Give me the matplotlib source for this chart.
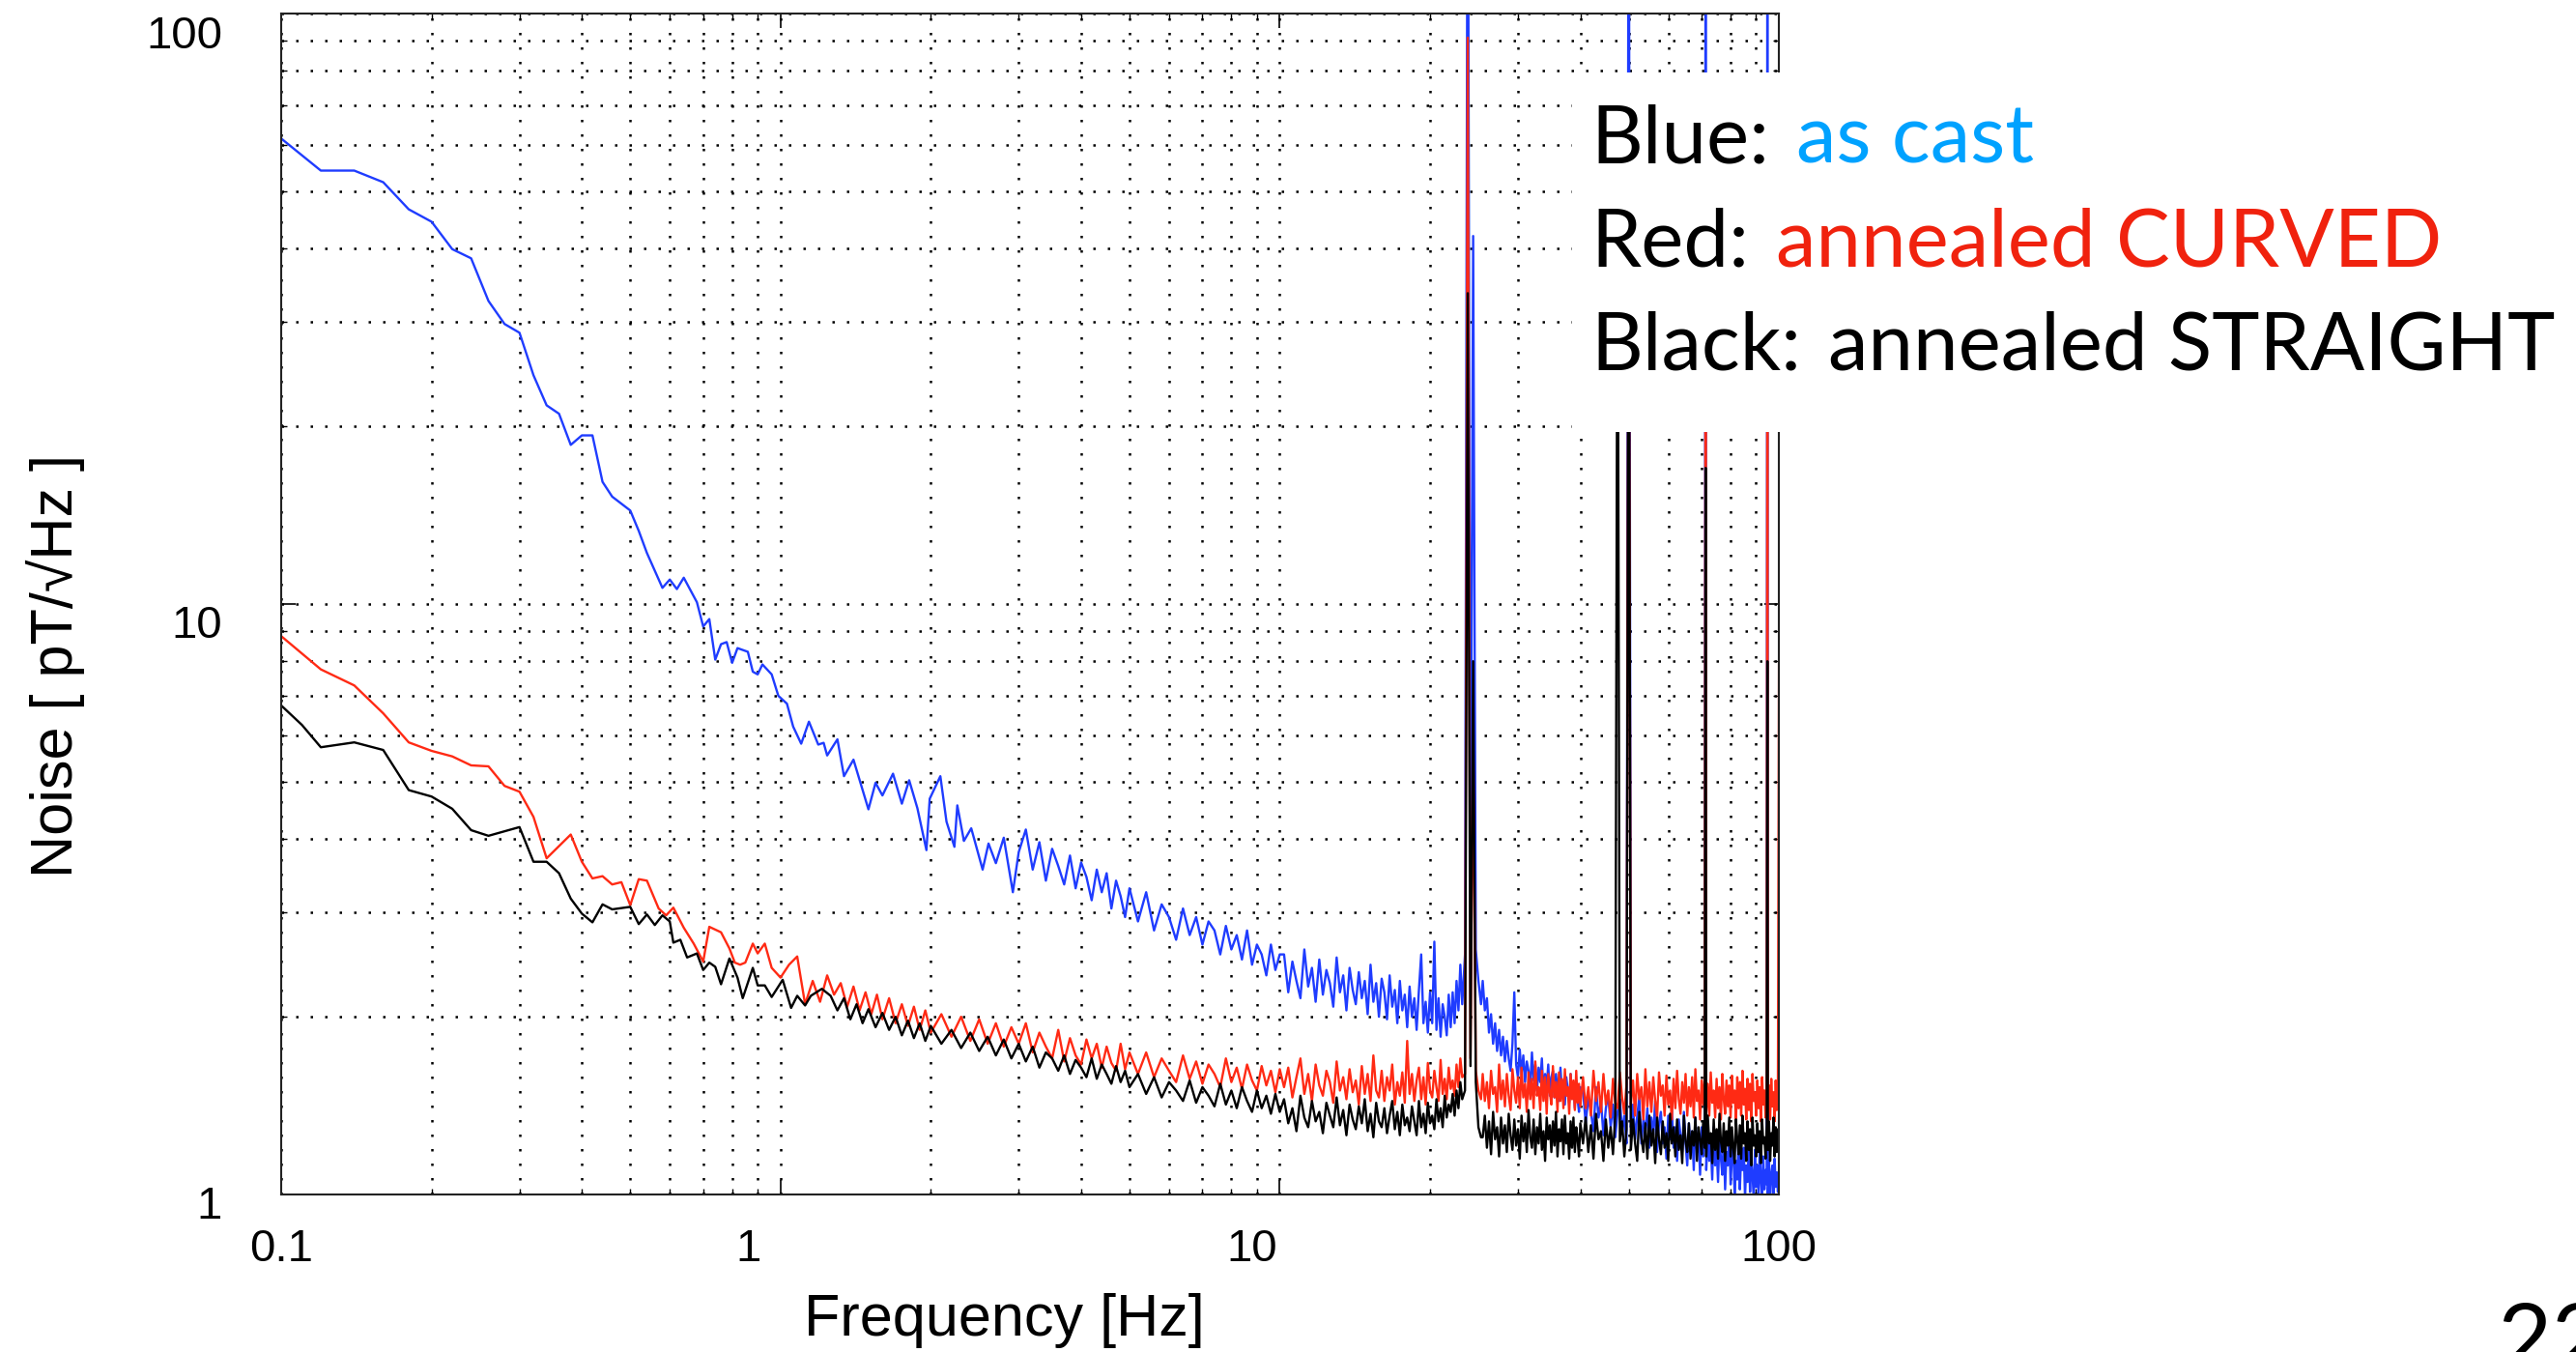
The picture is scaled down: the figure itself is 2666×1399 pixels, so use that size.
import matplotlib
matplotlib.use("Agg")
import matplotlib.pyplot as plt
from matplotlib.patches import Rectangle
from matplotlib.text import Annotation
from matplotlib.ticker import NullFormatter

# ---- values ----
# low frequency part, one list per curve
blue_lo_f = [0.10, 0.12, 0.14, 0.16, 0.18, 0.20, 0.22, 0.24, 0.26, 0.28,
             0.30, 0.32, 0.34, 0.36, 0.38, 0.40, 0.42, 0.44, 0.46,
             0.50, 0.52, 0.54, 0.57, 0.58, 0.60, 0.62, 0.64,
             0.68, 0.70, 0.72, 0.74, 0.76, 0.78, 0.80, 0.82,
             0.86, 0.88, 0.90, 0.92, 0.96, 0.99,
             1.03, 1.06, 1.10, 1.14, 1.19, 1.22, 1.24, 1.30, 1.34, 1.40,
             1.50, 1.55, 1.60, 1.68, 1.75, 1.81, 1.88, 1.96, 1.99,
             2.09, 2.15, 2.23, 2.26, 2.33, 2.41, 2.54, 2.61, 2.70, 2.80, 2.92]
blue_lo_v = [61.4, 54.2, 54.2, 51.8, 46.6, 44.4, 39.9, 38.5, 32.6, 29.8,
             28.8, 24.4, 21.7, 21.0, 18.6, 19.3, 19.3, 16.1, 15.2,
             14.4, 13.3, 12.2, 11.0, 10.65, 11.0, 10.6, 11.08,
             10.07, 9.16, 9.43, 8.05, 8.55, 8.62, 7.95, 8.42,
             8.3, 7.68, 7.6, 7.9, 7.6, 6.99,
             6.78, 6.2, 5.8, 6.32, 5.78, 5.82, 5.54, 5.9, 5.11, 5.45,
             4.49, 4.98, 4.74, 5.16, 4.59, 5.03, 4.51, 3.83, 4.68,
             5.11, 4.28, 3.88, 4.56, 3.97, 4.17, 3.55, 3.93, 3.64, 4.02, 3.25]

red_lo_f = [0.10, 0.12, 0.14, 0.16, 0.18, 0.20, 0.22, 0.24, 0.26, 0.28, 0.30, 0.32, 0.34,
            0.38, 0.40, 0.42, 0.44, 0.46, 0.48, 0.50, 0.52, 0.54,
            0.57, 0.59, 0.61, 0.64, 0.67, 0.70, 0.72, 0.76, 0.79, 0.81, 0.83, 0.85,
            0.88, 0.90, 0.93, 0.96,
            1.00, 1.04, 1.08, 1.12,
            1.16, 1.20, 1.24, 1.28, 1.32, 1.36, 1.40, 1.44, 1.48, 1.52, 1.56,
            1.60, 1.65, 1.70, 1.75, 1.80, 1.85, 1.90, 1.95, 2.00,
            2.1, 2.2, 2.3, 2.4, 2.5, 2.6, 2.7, 2.8, 2.9]
red_lo_v = [8.82, 7.75, 7.28, 6.53, 5.83, 5.64, 5.52, 5.33, 5.31, 4.92, 4.81, 4.36, 3.71,
            4.07, 3.66, 3.43, 3.46, 3.35, 3.38, 3.09, 3.42, 3.40,
            3.05, 2.97, 3.06, 2.83, 2.66, 2.48, 2.84, 2.78, 2.61, 2.47, 2.45, 2.47,
            2.66, 2.56, 2.66, 2.42,
            2.33, 2.45, 2.53, 2.10,
            2.30, 2.12, 2.35, 2.18, 2.28, 2.08, 2.25, 2.05, 2.20, 2.02, 2.18,
            1.98, 2.15, 1.95, 2.10, 1.93, 2.08, 1.90, 2.05, 1.88,
            2.02, 1.85, 2.00, 1.82, 1.98, 1.80, 1.95, 1.78, 1.92]

black_lo_f = [0.10, 0.11, 0.12,
              0.14, 0.16, 0.18, 0.20, 0.22, 0.24, 0.26,
              0.30, 0.32, 0.34, 0.36, 0.38, 0.40, 0.42, 0.44, 0.46,
              0.50, 0.52, 0.54, 0.56, 0.58, 0.60,
              0.61, 0.63, 0.65, 0.68, 0.70, 0.72, 0.74, 0.76, 0.79, 0.82,
              0.84, 0.88, 0.90, 0.93, 0.96,
              1.01, 1.05, 1.08, 1.12, 1.15, 1.21, 1.26,
              1.30, 1.34, 1.38, 1.42, 1.46, 1.50, 1.55, 1.60, 1.65, 1.70,
              1.75, 1.80, 1.85, 1.90, 1.95, 2.00, 2.1, 2.2, 2.3, 2.4,
              2.5, 2.6, 2.7, 2.8, 2.9]
black_lo_v = [6.73, 6.24, 5.72,
              5.83, 5.66, 4.84, 4.72, 4.50, 4.14, 4.05,
              4.19, 3.66, 3.66, 3.50, 3.17, 2.99, 2.89, 3.10, 3.04,
              3.07, 2.87, 2.98, 2.86, 2.97, 2.90,
              2.67, 2.70, 2.52, 2.56, 2.40, 2.47, 2.43, 2.27, 2.51, 2.33,
              2.15, 2.42, 2.26, 2.26, 2.16,
              2.31, 2.07, 2.17, 2.09, 2.17, 2.23, 2.17,
              2.05, 2.15, 1.98, 2.10, 1.95, 2.06, 1.92, 2.03, 1.90, 2.00,
              1.86, 1.97, 1.84, 1.95, 1.82, 1.93, 1.80, 1.90, 1.77, 1.88,
              1.75, 1.85, 1.72, 1.83, 1.70]

# 3 - 100 Hz: one frequency list shared by the three curves
f_hi = [
    # 3 - 5 Hz
    3.0, 3.1, 3.2, 3.3, 3.4, 3.5, 3.6, 3.7, 3.8, 3.9, 4.0, 4.1, 4.2, 4.3, 4.4, 4.5, 4.6, 4.7, 4.8, 4.9, 5.0,
    # 5 - 10 Hz
    5.2, 5.4, 5.6, 5.8, 6.0, 6.2, 6.4, 6.6, 6.8, 7.0, 7.2, 7.4, 7.6, 7.8, 8.0, 8.2, 8.4, 8.6, 8.8, 9.0,
    9.2, 9.4, 9.6, 9.8, 10.0,
    # 10 - 23 Hz
    10.2, 10.4, 10.6, 10.8, 11.0, 11.2, 11.4, 11.6, 11.8, 12.0,
    12.2, 12.4, 12.6, 12.8, 13.0, 13.2, 13.4, 13.6, 13.8, 14.0,
    14.2, 14.4, 14.6, 14.8, 15.0, 15.2, 15.4, 15.6, 15.8, 16.0,
    16.2, 16.4, 16.6, 16.8, 17.0, 17.2, 17.4, 17.6, 17.8, 18.0,
    18.2, 18.4, 18.6, 18.8, 19.0, 19.2, 19.4, 19.6, 19.8, 20.0,
    20.2, 20.4, 20.6, 20.8, 21.0, 21.2, 21.4, 21.6, 21.8, 22.0,
    22.2, 22.4, 22.6, 22.8, 23.0, 23.2,
    # line near 24 Hz
    23.5, 23.8, 24.1, 24.4, 24.7, 25.0, 25.3,
    # 25 - 40 Hz
    25.5, 25.75, 26.0, 26.25, 26.5, 26.75, 27.0, 27.25, 27.5, 27.75,
    28.0, 28.25, 28.5, 28.75, 29.0, 29.25, 29.5, 29.75, 30.0, 30.25,
    30.5, 30.75, 31.0, 31.25, 31.5, 31.75, 32.0, 32.25, 32.5, 32.75,
    33.0, 33.25, 33.5, 33.75, 34.0, 34.25, 34.5, 34.75, 35.0, 35.25,
    35.5, 35.75, 36.0, 36.25, 36.5, 36.75, 37.0, 37.25, 37.5, 37.75,
    38.0, 38.25, 38.5, 38.75, 39.0, 39.25, 39.5, 39.75, 40.0,
    # 40 - 100 Hz
    40.5, 41.0, 41.5, 42.0, 42.5, 43.0, 43.5, 44.0, 44.5, 45.0,
    45.5, 46.0, 46.5, 47.0, 47.5, 48.0, 48.5, 49.0, 49.5, 50.0,
    50.5, 51.0, 51.5, 52.0, 52.5, 53.0, 53.5, 54.0, 54.5, 55.0,
    55.5, 56.0, 56.5, 57.0, 57.5, 58.0, 58.5, 59.0, 59.5, 60.0,
    60.5, 61.0, 61.5, 62.0, 62.5, 63.0, 63.5, 64.0, 64.5, 65.0,
    65.5, 66.0, 66.5, 67.0, 67.5, 68.0, 68.5, 69.0, 69.5, 70.0,
    70.5, 71.0, 71.3, 71.5, 72.0, 72.5, 73.0, 73.5, 74.0, 74.5,
    75.0, 75.5, 76.0, 76.5, 77.0, 77.5, 78.0, 78.5, 79.0, 79.5,
    80.0, 80.5, 81.0, 81.5, 82.0, 82.5, 83.0, 83.5, 84.0, 84.5,
    85.0, 85.5, 86.0, 86.5, 87.0, 87.5, 88.0, 88.5, 89.0, 89.5,
    90.0, 90.5, 91.0, 91.5, 92.0, 92.5, 93.0, 93.5, 94.0, 94.5,
    94.8, 95.0, 95.5, 96.0, 96.5, 97.0, 97.5, 98.0, 98.5, 99.0,
    99.5, 100.0]

blue_hi = [
    3.80, 4.15, 3.55, 3.95, 3.40, 3.85, 3.60, 3.35, 3.75, 3.30, 3.65, 3.45, 3.15, 3.55, 3.25,
    3.50, 3.05, 3.40, 3.20, 2.95, 3.30,
    2.90, 3.25, 2.80, 3.10, 2.95, 2.70, 3.05, 2.75, 2.95, 2.65, 2.90, 2.80, 2.55, 2.85, 2.60,
    2.75, 2.50, 2.80, 2.45, 2.65, 2.55, 2.35, 2.65, 2.40, 2.55,
    2.55, 2.20, 2.48, 2.30, 2.15, 2.60, 2.25, 2.42, 2.12, 2.50,
    2.18, 2.40, 2.28, 2.08, 2.52, 2.20, 2.35, 2.05, 2.42, 2.22,
    2.10, 2.38, 2.15, 2.30, 2.02, 2.45, 2.12, 2.28, 2.00, 2.32,
    2.20, 1.98, 2.35, 2.08, 2.22, 1.95, 2.30, 2.05, 2.18, 1.92,
    2.25, 2.00, 2.15, 1.90, 2.22, 2.55, 1.95, 2.12, 1.88, 2.20,
    1.95, 2.68, 1.90, 2.15, 1.85, 2.10, 2.00, 1.86, 2.18, 1.92,
    2.20, 1.95, 2.30, 2.05, 2.45, 2.10,
    2.55, 300.0, 2.90, 42.0, 2.60, 2.30, 2.10,
    2.30, 2.05, 2.15, 1.88, 2.02, 1.80, 1.95, 1.75, 1.90, 1.72,
    1.85, 1.68, 1.82, 1.70, 1.62, 1.80, 2.20, 1.66, 1.58, 1.76,
    1.60, 1.72, 1.55, 1.68, 1.62, 1.52, 1.74, 1.56, 1.66, 1.50,
    1.64, 1.55, 1.70, 1.48, 1.60, 1.52, 1.66, 1.47, 1.58, 1.62,
    1.46, 1.60, 1.50, 1.44, 1.64, 1.48, 1.56, 1.42, 1.58, 1.50,
    1.43, 1.60, 1.46, 1.54, 1.40, 1.56, 1.45, 1.38, 1.52,
    1.50, 1.32, 1.46, 1.38, 1.28, 1.52, 1.35, 1.44, 1.26, 1.40,
    1.48, 1.30, 1.42, 1.25, 1.38, 1.45, 1.28, 1.36, 1.22, 300.0,
    1.30, 1.42, 1.24, 1.36, 1.46, 1.22, 1.34, 1.28, 1.40, 1.20,
    1.35, 1.26, 1.44, 1.18, 1.32, 1.38, 1.22, 1.30, 1.15, 1.36,
    1.24, 1.40, 1.20, 1.30, 1.14, 1.34, 1.26, 1.18, 1.38, 1.22,
    1.12, 1.32, 1.20, 1.28, 1.10, 1.35, 1.18, 1.25, 1.08, 1.30,
    1.16, 1.24, 300.0, 1.10, 1.28, 1.14, 1.22, 1.06, 1.30, 1.12,
    1.20, 1.05, 1.26, 1.15, 1.08, 1.24, 1.02, 1.18, 1.12, 1.27,
    1.04, 1.16, 1.22, 1.00, 1.14, 1.06, 1.25, 1.02, 1.18, 1.10,
    1.20, 0.99, 1.12, 1.05, 1.22, 1.01, 1.15, 1.08, 0.98, 1.19,
    1.03, 1.12, 1.00, 1.20, 1.06, 0.98, 1.16, 1.02, 1.10, 1.04,
    300.0, 1.00, 1.14, 0.98, 1.08, 1.12, 1.00, 1.15, 1.03, 1.09,
    1.01, 1.10]

red_hi = [
    1.80, 1.95, 1.74, 1.88, 1.78, 1.70, 1.90, 1.68, 1.84, 1.72, 1.66, 1.83, 1.70, 1.80, 1.64,
    1.78, 1.67, 1.62, 1.80, 1.63, 1.74,
    1.60, 1.74, 1.58, 1.70, 1.62, 1.55, 1.72, 1.57, 1.68, 1.54, 1.66, 1.60, 1.52, 1.70, 1.55,
    1.64, 1.51, 1.66, 1.56, 1.50, 1.65, 1.53, 1.62, 1.49, 1.63,
    1.52, 1.64, 1.46, 1.58, 1.70, 1.48, 1.60, 1.44, 1.66, 1.53,
    1.47, 1.62, 1.55, 1.43, 1.68, 1.50, 1.58, 1.45, 1.63, 1.49,
    1.56, 1.42, 1.65, 1.48, 1.60, 1.44, 1.72, 1.50, 1.46, 1.62,
    1.44, 1.58, 1.50, 1.66, 1.42, 1.55, 1.47, 1.61, 1.43, 1.82,
    1.48, 1.60, 1.44, 1.56, 1.64, 1.45, 1.58, 1.42, 1.67, 1.50,
    1.46, 1.62, 1.52, 1.44, 1.69, 1.48, 1.57, 1.45, 1.64, 1.51,
    1.56, 1.47, 1.66, 1.52, 1.70, 1.58,
    1.60, 91.0, 1.70, 6.0, 1.62, 1.50, 1.45,
    1.60, 1.44, 1.55, 1.40, 1.62, 1.48, 1.52, 1.38, 1.66, 1.45,
    1.56, 1.41, 1.60, 1.47, 1.39, 1.63, 1.50, 1.43, 1.58, 1.40,
    1.64, 1.46, 1.54, 1.38, 1.61, 1.45, 1.57, 1.40, 1.68, 1.47,
    1.52, 1.39, 1.62, 1.44, 1.58, 1.37, 1.60, 1.49, 1.42, 1.65,
    1.46, 1.55, 1.38, 1.61, 1.44, 1.57, 1.40, 1.63, 1.47, 1.52,
    1.37, 1.60, 1.45, 1.56, 1.39, 1.62, 1.43, 1.54, 1.41,
    1.58, 1.40, 1.52, 1.36, 1.62, 1.44, 1.55, 1.38, 1.60, 1.42,
    1.50, 1.35, 1.57, 1.43, 1.40, 1.61, 1.46, 1.37, 1.54, 60.0,
    1.42, 1.56, 1.36, 1.60, 1.45, 1.52, 1.34, 1.63, 1.41, 1.55,
    1.38, 1.58, 1.44, 1.35, 1.61, 1.47, 1.53, 1.36, 1.59, 1.42,
    1.50, 1.34, 1.57, 1.40, 1.62, 1.45, 1.37, 1.55, 1.43, 1.60,
    1.36, 1.52, 1.41, 1.58, 1.35, 1.63, 1.44, 1.50, 1.34, 1.56,
    1.42, 1.59, 60.0, 1.38, 1.54, 1.36, 1.61, 1.43, 1.50, 1.35,
    1.57, 1.40, 1.52, 1.34, 1.60, 1.45, 1.37, 1.56, 1.41, 1.53,
    1.35, 1.59, 1.43, 1.50, 1.33, 1.58, 1.40, 1.55, 1.36, 1.62,
    1.42, 1.51, 1.34, 1.57, 1.39, 1.54, 1.33, 1.60, 1.44, 1.49,
    1.36, 1.56, 1.40, 1.52, 1.33, 1.58, 1.42, 1.50, 1.35, 1.55,
    60.0, 1.38, 1.53, 1.34, 1.57, 1.41, 1.49, 1.33, 1.56, 1.39,
    1.52, 7.9]

black_hi = [
    1.80, 1.68, 1.78, 1.64, 1.74, 1.70, 1.62, 1.72, 1.60, 1.69, 1.64, 1.58, 1.70, 1.57, 1.66,
    1.60, 1.54, 1.65, 1.55, 1.62, 1.52,
    1.60, 1.48, 1.58, 1.46, 1.55, 1.50, 1.44, 1.56, 1.43, 1.52, 1.47, 1.41, 1.54, 1.42, 1.50,
    1.40, 1.52, 1.44, 1.38, 1.50, 1.40, 1.47, 1.37, 1.48, 1.38,
    1.45, 1.32, 1.40, 1.28, 1.47, 1.35, 1.30, 1.44, 1.33, 1.38,
    1.27, 1.43, 1.36, 1.30, 1.46, 1.31, 1.39, 1.26, 1.42, 1.34,
    1.29, 1.41, 1.32, 1.45, 1.28, 1.37, 1.25, 1.43, 1.33, 1.30,
    1.40, 1.27, 1.36, 1.44, 1.29, 1.38, 1.26, 1.42, 1.31, 1.35,
    1.28, 1.41, 1.33, 1.26, 1.44, 1.30, 1.37, 1.27, 1.43, 1.32,
    1.36, 1.29, 1.45, 1.33, 1.40, 1.30, 1.47, 1.35, 1.42, 1.38,
    1.48, 1.36, 1.50, 1.40, 1.55, 1.45,
    1.50, 33.6, 1.65, 8.0, 1.55, 1.30, 1.25,
    1.25, 1.36, 1.20, 1.33, 1.17, 1.38, 1.24, 1.30, 1.16, 1.35,
    1.22, 1.31, 1.18, 1.37, 1.26, 1.19, 1.34, 1.21, 1.29, 1.15,
    1.36, 1.23, 1.32, 1.18, 1.39, 1.25, 1.20, 1.34, 1.17, 1.30,
    1.22, 1.37, 1.19, 1.28, 1.14, 1.35, 1.24, 1.31, 1.18, 1.33,
    1.21, 1.38, 1.16, 1.29, 1.23, 1.34, 1.17, 1.36, 1.22, 1.27,
    1.15, 1.33, 1.20, 1.35, 1.18, 1.30, 1.24, 1.16, 1.32,
    1.22, 1.35, 1.18, 1.31, 1.15, 1.37, 1.24, 1.28, 1.14, 1.34,
    1.20, 1.30, 1.17, 1.36, 60.0, 1.23, 1.33, 1.16, 1.29, 60.0,
    1.19, 1.34, 1.22, 1.14, 1.38, 1.25, 1.18, 1.32, 1.15, 1.36,
    1.21, 1.29, 1.13, 1.35, 1.24, 1.17, 1.33, 1.20, 1.27, 1.14,
    1.37, 1.22, 1.30, 1.16, 1.34, 1.19, 1.26, 1.13, 1.36, 1.23,
    1.18, 1.32, 1.15, 1.28, 1.21, 1.35, 1.14, 1.30, 1.24, 1.17,
    1.33, 1.20, 17.0, 1.16, 1.36, 1.22, 1.27, 1.13, 1.34, 1.19,
    1.29, 1.15, 1.37, 1.23, 1.18, 1.32, 1.14, 1.28, 1.21, 1.35,
    1.16, 1.30, 1.20, 1.13, 1.34, 1.24, 1.17, 1.31, 1.15, 1.36,
    1.22, 1.27, 1.14, 1.33, 1.19, 1.29, 1.12, 1.35, 1.21, 1.26,
    1.16, 1.32, 1.18, 1.28, 1.13, 1.34, 1.22, 1.25, 1.15, 1.31,
    8.0, 1.19, 1.33, 1.14, 1.27, 1.21, 1.35, 1.16, 1.30, 1.18,
    1.29, 1.24]

x_ticks = [0.1, 1, 10, 100]
x_tick_labels = ["0.1", "1", "10", "100"]
y_ticks = [1, 10, 100]
y_tick_labels = ["1", "10", "100"]

legend_lines = [("Blue:", "as cast", "#00a2ff"),
                ("Red:", "annealed CURVED", "#f0220e"),
                ("Black:", "annealed STRAIGHT", "black")]

# ---- figure ----
plt.rcParams['font.family'] = ['Liberation Sans', 'DejaVu Sans']

fig = plt.figure(figsize=(26.66, 13.99), dpi=100)
ax = fig.add_axes([0.1092, 0.1165, 0.5814, 0.8735])

ax.plot(blue_lo_f + f_hi, blue_lo_v + blue_hi, color='#1f3cff', lw=1.7)
ax.plot(red_lo_f + f_hi, red_lo_v + red_hi, color='#ff2a14', lw=1.7)
ax.plot(black_lo_f + f_hi, black_lo_v + black_hi, color='black', lw=1.7)

ax.set_xscale('log')
ax.set_yscale('log')
ax.set_xlim(0.1, 100)
ax.set_ylim(1, 100)
ax.set_xticks(x_ticks)
ax.set_yticks(y_ticks)
ax.xaxis.set_minor_formatter(NullFormatter())
ax.yaxis.set_minor_formatter(NullFormatter())
ax.grid(True, which='both', color='black', linestyle=(0, (1, 5)), linewidth=1.8)
ax.set_axisbelow(True)
ax.tick_params(which='both', direction='in', top=True, right=True,
               labelbottom=False, labelleft=False)
ax.tick_params(which='major', length=11, width=1.2)
ax.tick_params(which='minor', length=4, width=1.0)
for s in ax.spines.values():
    s.set_linewidth(1.5)
    s.set_color('#222222')

# tick labels sit a bit off their ticks in the original
x_dx = [0, -24, -21, 0]
for v, lab, dx in zip(x_ticks, x_tick_labels, x_dx):
    ax.annotate(lab, xy=(v, 0), xycoords=('data', 'axes fraction'),
                xytext=(dx, -41), textcoords='offset points',
                ha='center', va='center', fontsize=34)
y_dy = [-9.5, -16.5, -17]
for v, lab, dy in zip(y_ticks, y_tick_labels, y_dy):
    ax.annotate(lab, xy=(0, v), xycoords=('axes fraction', 'data'),
                xytext=(-44, dy), textcoords='offset points',
                ha='right', va='center', fontsize=34)

ax.set_xlabel("Frequency [Hz]", fontsize=44)
ax.xaxis.set_label_coords(0.4826, -0.0835)
ax.set_ylabel("Noise [ pT/\u221aHz ]", fontsize=44)
ax.yaxis.set_label_coords(-0.131, 0.448)

# white box with the colour key, pasted over the plot
fig.add_artist(Rectangle((0.6103, 0.6805), 1 - 0.6103, 0.9464 - 0.6805,
                         transform=fig.transFigure, facecolor='white',
                         edgecolor='none', zorder=5))
baselines = [0.8799, 0.8034, 0.7269]
for (head, rest, col), yb in zip(legend_lines, baselines):
    t = fig.text(0.6174, yb, head, fontsize=60, family='Lato',
                 va='baseline', ha='left', zorder=6)
    ann = Annotation(rest, xy=(1, 0), xycoords=t, xytext=(20, 0),
                     textcoords='offset points', va='bottom', ha='left',
                     fontsize=60, family='Lato', color=col, zorder=6)
    fig.add_artist(ann)

# slide number, cut by the bottom edge as in the original
fig.text(0.9693, 0.0372, "22", fontsize=70, family='Lato', va='top', ha='left')

fig.savefig('out.png', dpi=100)
